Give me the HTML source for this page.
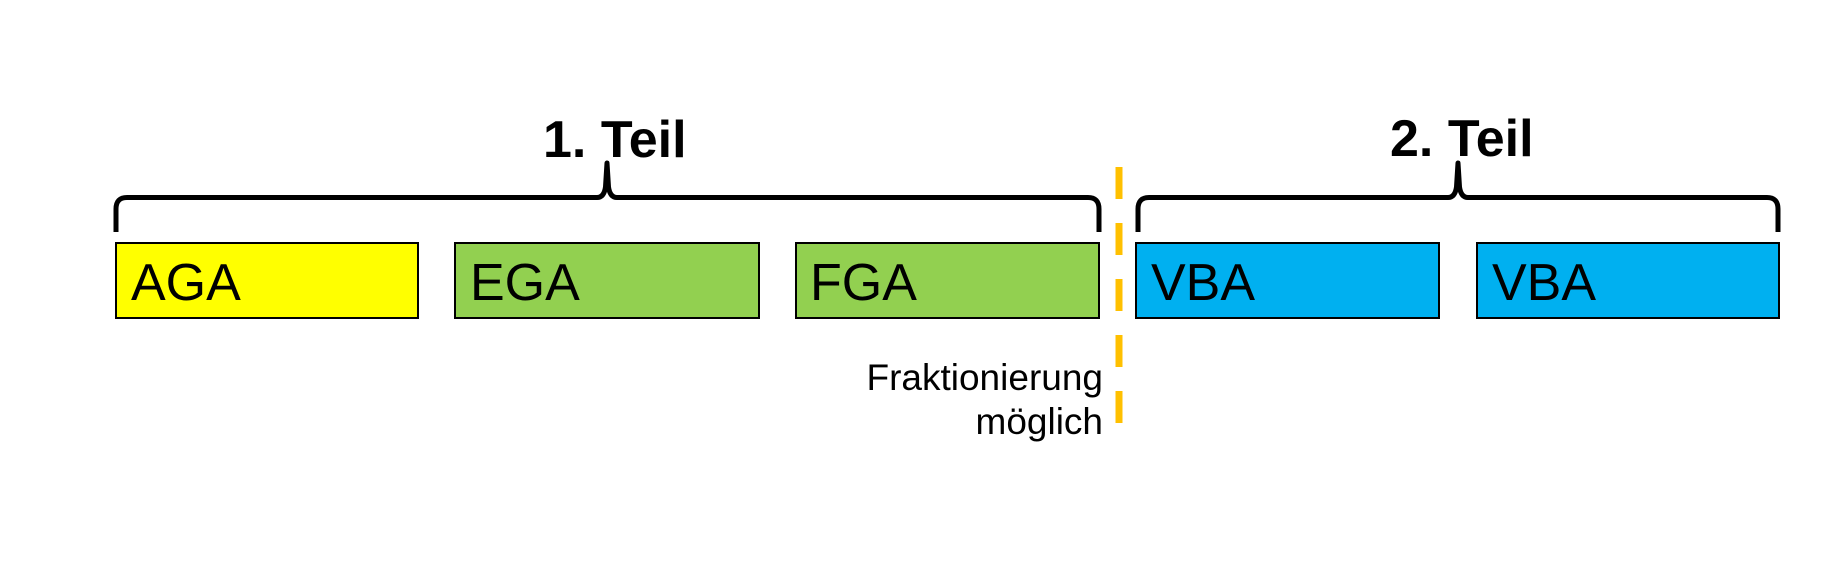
<!DOCTYPE html>
<html>
<head>
<meta charset="utf-8">
<style>
  html,body{margin:0;padding:0;background:#fff;}
  svg{display:block;}
  text{font-family:"Liberation Sans",Arial,sans-serif;}
</style>
</head>
<body>
<svg width="1844" height="577" viewBox="0 0 1844 577" xmlns="http://www.w3.org/2000/svg">
  <rect x="0" y="0" width="1844" height="577" fill="#ffffff"/>

  <!-- Headers -->
  <text x="543" y="157" font-size="52" font-weight="bold" fill="#000">1. Teil</text>
  <text x="1390" y="156" font-size="52" font-weight="bold" fill="#000">2. Teil</text>

  <!-- Brace 1 -->
  <path d="M116 232 L116 209 Q116 197.5 127 197.5 L597 197.5 Q604 197.5 605.5 187 L607 163 L608.5 187 Q610 197.5 617 197.5 L1088 197.5 Q1099 197.5 1099 209 L1099 232"
        fill="none" stroke="#000" stroke-width="5" stroke-linejoin="round" stroke-linecap="butt"/>
  <!-- Brace 2 -->
  <path d="M1138 232 L1138 209 Q1138 197.5 1149 197.5 L1448 197.5 Q1455 197.5 1456.5 187 L1458 163 L1459.5 187 Q1461 197.5 1468 197.5 L1767 197.5 Q1778 197.5 1778 209 L1778 232"
        fill="none" stroke="#000" stroke-width="5" stroke-linejoin="round" stroke-linecap="butt"/>

  <!-- Boxes -->
  <rect x="116" y="243" width="302" height="75" fill="#FFFF00" stroke="#000" stroke-width="2"/>
  <rect x="455" y="243" width="304" height="75" fill="#92D050" stroke="#000" stroke-width="2"/>
  <rect x="796" y="243" width="303" height="75" fill="#92D050" stroke="#000" stroke-width="2"/>
  <rect x="1136" y="243" width="303" height="75" fill="#00B0F0" stroke="#000" stroke-width="2"/>
  <rect x="1477" y="243" width="302" height="75" fill="#00B0F0" stroke="#000" stroke-width="2"/>

  <!-- Box labels -->
  <text x="131" y="300" font-size="52" fill="#000">AGA</text>
  <text x="470" y="300" font-size="52" fill="#000">EGA</text>
  <text x="810" y="300" font-size="52" fill="#000">FGA</text>
  <text x="1151" y="300" font-size="52" fill="#000">VBA</text>
  <text x="1492" y="300" font-size="52" fill="#000">VBA</text>

  <!-- Dashed divider -->
  <line x1="1119" y1="167" x2="1119" y2="423" stroke="#FFC000" stroke-width="7" stroke-dasharray="32 24"/>

  <!-- Note -->
  <text x="1103" y="390" font-size="37" text-anchor="end" fill="#000">Fraktionierung</text>
  <text x="1103" y="434" font-size="37" text-anchor="end" fill="#000">möglich</text>
</svg>
</body>
</html>
